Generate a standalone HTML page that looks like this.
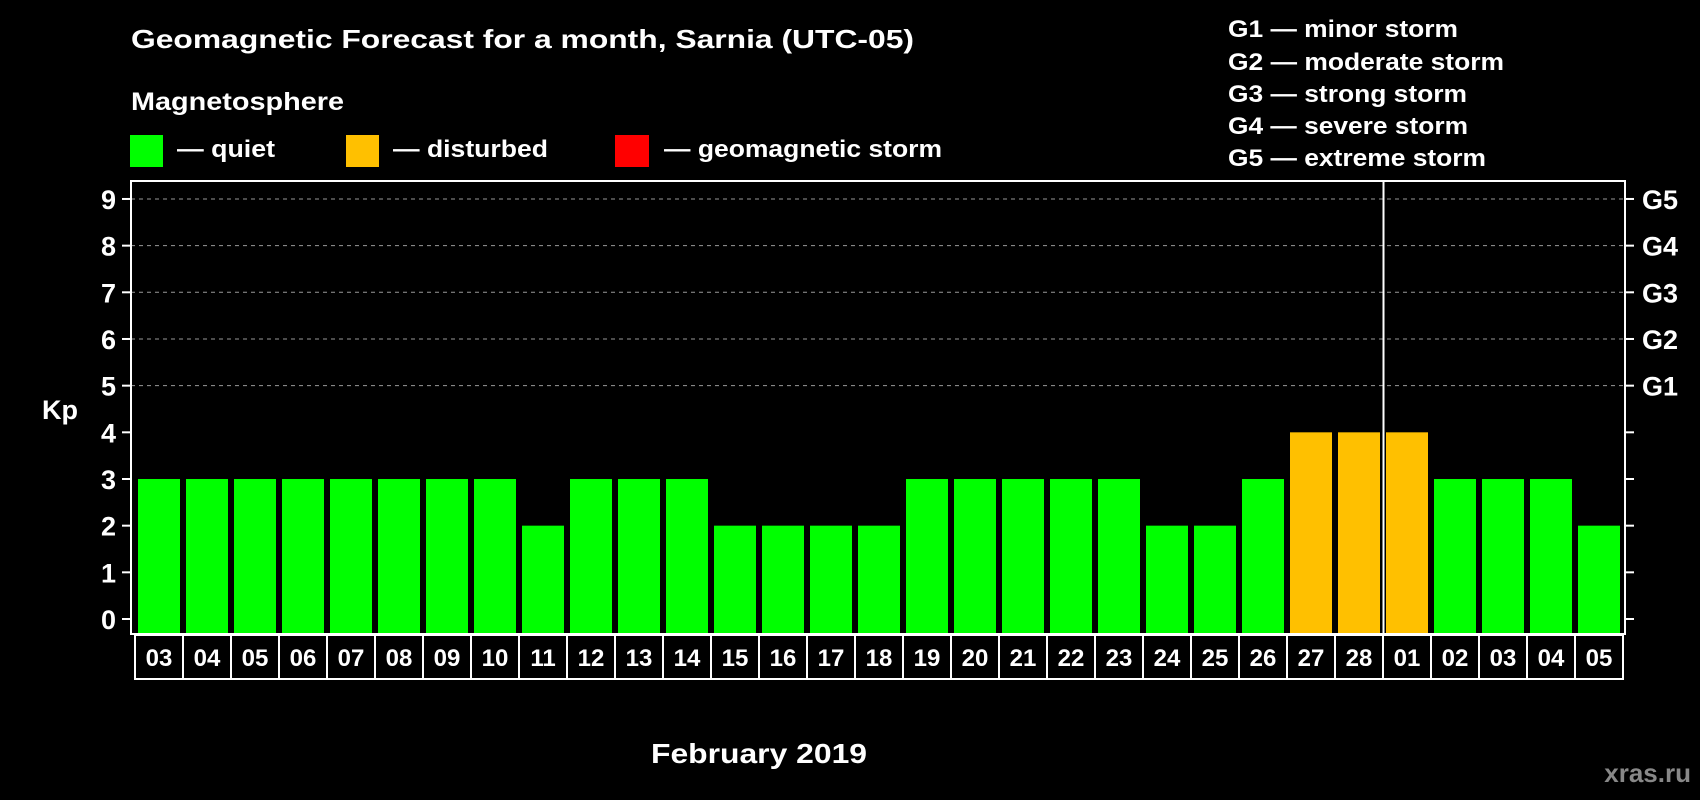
<!DOCTYPE html>
<html><head><meta charset="utf-8"><style>
html,body{margin:0;padding:0;background:#000;}
svg{display:block;}
text{font-family:"Liberation Sans",Arial,sans-serif;font-weight:bold;fill:#fff;}
</style></head><body>
<svg id="chart" width="1700" height="800" viewBox="0 0 1700 800" xmlns="http://www.w3.org/2000/svg">
<rect width="1700" height="800" fill="#000"/>
<text x="131" y="48" font-size="26" textLength="783" lengthAdjust="spacingAndGlyphs">Geomagnetic Forecast for a month, Sarnia (UTC-05)</text>
<text x="131" y="110" font-size="25" textLength="213" lengthAdjust="spacingAndGlyphs">Magnetosphere</text>
<g>
<rect x="130" y="135" width="33" height="32" fill="#00ff00"/>
<text x="177" y="157" font-size="24" textLength="98" lengthAdjust="spacingAndGlyphs">— quiet</text>
</g>
<g>
<rect x="346" y="135" width="33" height="32" fill="#ffc000"/>
<text x="393" y="157" font-size="24" textLength="155" lengthAdjust="spacingAndGlyphs">— disturbed</text>
</g>
<g>
<rect x="615" y="135" width="34" height="32" fill="#ff0000"/>
<text x="664" y="157" font-size="24" textLength="278" lengthAdjust="spacingAndGlyphs">— geomagnetic storm</text>
</g>
<g>
<text x="1228" y="37" font-size="24" textLength="230" lengthAdjust="spacingAndGlyphs">G1 — minor storm</text>
<text x="1228" y="70" font-size="24" textLength="276" lengthAdjust="spacingAndGlyphs">G2 — moderate storm</text>
<text x="1228" y="102" font-size="24" textLength="239" lengthAdjust="spacingAndGlyphs">G3 — strong storm</text>
<text x="1228" y="134" font-size="24" textLength="240" lengthAdjust="spacingAndGlyphs">G4 — severe storm</text>
<text x="1228" y="166" font-size="24" textLength="258" lengthAdjust="spacingAndGlyphs">G5 — extreme storm</text>
</g>
<text x="42" y="419" font-size="27">Kp</text>
<g id="grid"></g>
<g id="bars"></g>
<g id="axes"></g>
<g id="xlabels"></g>
<text x="651" y="763" font-size="28" textLength="216" lengthAdjust="spacingAndGlyphs">February 2019</text>
<text x="1691" y="782" font-size="26" text-anchor="end" style="fill:#888">xras.ru</text>
</svg>
<script>
const days = ["03","04","05","06","07","08","09","10","11","12","13","14","15","16","17","18","19","20","21","22","23","24","25","26","27","28","01","02","03","04","05"];
const kpValues = [3,3,3,3,3,3,3,3,2,3,3,3,2,2,2,2,3,3,3,3,3,2,2,3,4,4,4,3,3,3,2];
const yTicks = [0,1,2,3,4,5,6,7,8,9];
const gLabels = ["","","","","","G1","G2","G3","G4","G5"];
const monthBreakIndex = 26;

const NS="http://www.w3.org/2000/svg";
const L=131,R=1625,T=181,B=634;
const y0=619, unit=46.67;
const step=48, x0=135;
function yScale(v){return y0-v*unit;}
function xBand(i){return x0+step*i;}
function mk(tag,attrs,parent){const e=document.createElementNS(NS,tag);for(const k in attrs)e.setAttribute(k,attrs[k]);parent.appendChild(e);return e;}
const grid=document.getElementById('grid'),bars=document.getElementById('bars'),axes=document.getElementById('axes'),xl=document.getElementById('xlabels');

yTicks.forEach((t,i)=>{
  const y=yScale(t);
  if(t>=5){
    const g=mk('line',{x1:L,x2:R,y1:y,y2:y,stroke:'#999','stroke-width':1,'stroke-dasharray':'4,4'},grid);
    
    
  }
  const tl=mk('line',{x1:L-9,x2:L,y1:y,y2:y,stroke:'#fff','stroke-width':2},axes);
  
  
  const tr=mk('line',{x1:R,x2:R+9,y1:y,y2:y,stroke:'#fff','stroke-width':2},axes);
  
  
  const lab=mk('text',{x:116,y:y+10,'font-size':27,'text-anchor':'end'},axes);
  lab.textContent=t;
  
  
  if(gLabels[i]){
    const gl=mk('text',{x:1642,y:y+10,'font-size':27},axes);
    gl.textContent=gLabels[i];
    
    
  }
});

kpValues.forEach((v,i)=>{
  const color=v>=5?'#ff0000':(v>=4?'#ffc000':'#00ff00');
  const top=yScale(v);
  const r=mk('rect',{x:xBand(i)+3,y:top,width:42,height:B-top,fill:color},bars);
  
  
});

const frame=mk('rect',{x:L,y:T,width:R-L,height:B-T,fill:'none',stroke:'#fff','stroke-width':2},axes);


const mx=xBand(monthBreakIndex)+0.5;
const ml=mk('line',{x1:mx,x2:mx,y1:T,y2:B,stroke:'#fff','stroke-width':2},axes);



const row=mk('rect',{x:x0,y:635,width:step*days.length,height:44,fill:'none',stroke:'#fff','stroke-width':2},xl);


days.forEach((d,i)=>{
  if(i>0){
    const dv=mk('line',{x1:xBand(i),x2:xBand(i),y1:635,y2:679,stroke:'#fff','stroke-width':2},xl);
    
    
  }
  const t=mk('text',{x:xBand(i)+step/2,y:666,'font-size':24,'text-anchor':'middle'},xl);
  t.textContent=d;
  
  
});
</script>
</body></html>
